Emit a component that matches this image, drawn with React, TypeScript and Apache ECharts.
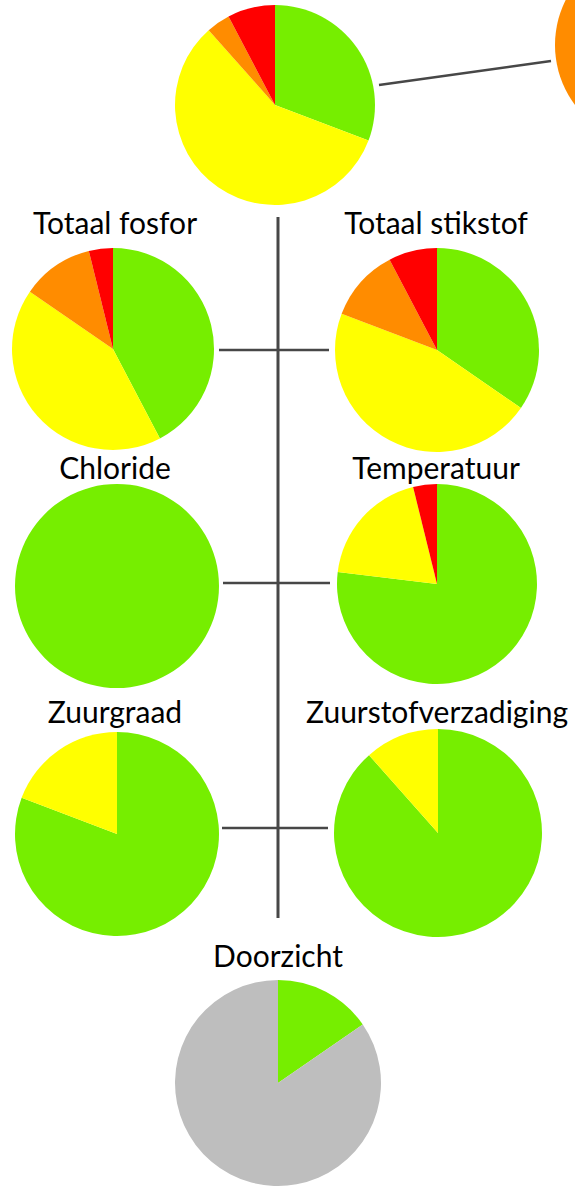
import React, { useEffect, useRef } from "react";
import * as echarts from "echarts";

const categories = ["Goed", "Redelijk", "Matig", "Slecht"];
const colors = ["#76EE00", "#FFFF00", "#FF8C00", "#FF0000"];
const grey = "#BEBEBE";

const totaalValues = [8, 15, 1, 2];
const oranjeValues = [1];
const fosforValues = [11, 11, 3, 1];
const stikstofValues = [9, 12, 3, 2];
const chlorideValues = [26, 0, 0, 0];
const temperatuurValues = [20, 5, 0, 1];
const zuurgraadValues = [21, 5, 0, 0];
const zuurstofValues = [23, 3, 0, 0];
const doorzichtCategories = ["Goed", "Onbekend"];
const doorzichtValues = [4, 22];

const titles = [
  "Totaal fosfor",
  "Totaal stikstof",
  "Chloride",
  "Temperatuur",
  "Zuurgraad",
  "Zuurstofverzadiging",
  "Doorzicht",
];

function pie(name: string, values: number[], cats: string[], cols: string[], center: number[], r: number) {
  return {
    type: "pie",
    name,
    center,
    radius: r,
    startAngle: 90,
    clockwise: true,
    label: { show: false },
    labelLine: { show: false },
    silent: true,
    avoidLabelOverlap: false,
    itemStyle: { borderWidth: 0 },
    data: values.map((v, i) => ({ name: cats[i], value: v, itemStyle: { color: cols[i] } })),
  };
}

export default function App() {
  const ref = useRef<HTMLDivElement>(null);
  useEffect(() => {
    if (!ref.current) return;
    const chart = echarts.init(ref.current, null, { renderer: "svg" });
    const lineStyle = { stroke: "#474747", lineWidth: 2.5 };
    const font = "30px Lato";
    const titlePos = [
      [115, 222],
      [436, 222],
      [115, 467],
      [436, 467],
      [115, 711],
      [437, 711],
      [278, 955],
    ];
    chart.setOption({
      animation: false,
      backgroundColor: "#ffffff",
      graphic: [
        { type: "line", shape: { x1: 278, y1: 217, x2: 278, y2: 918 }, style: { stroke: "#474747", lineWidth: 3 } },
        { type: "line", shape: { x1: 219, y1: 350, x2: 329, y2: 350 }, style: lineStyle },
        { type: "line", shape: { x1: 223, y1: 583, x2: 330, y2: 583 }, style: lineStyle },
        { type: "line", shape: { x1: 222, y1: 828, x2: 328, y2: 828 }, style: lineStyle },
        { type: "line", shape: { x1: 379, y1: 85, x2: 551, y2: 61 }, style: lineStyle },
        ...titles.map((t, i) => ({
          type: "text",
          x: titlePos[i][0],
          y: titlePos[i][1],
          style: { text: t, font, fill: "#000", textAlign: "center", textVerticalAlign: "middle" },
        })),
      ],
      series: [
        pie("Totaal", totaalValues, categories, colors, [275, 105], 100),
        pie("Oranje", oranjeValues, ["Matig"], ["#FF8C00"], [655, 45], 100),
        pie("Totaal fosfor", fosforValues, categories, colors, [113, 349], 101),
        pie("Totaal stikstof", stikstofValues, categories, colors, [437, 350], 102),
        pie("Chloride", chlorideValues, categories, colors, [117, 586], 102),
        pie("Temperatuur", temperatuurValues, categories, colors, [437, 584], 100),
        pie("Zuurgraad", zuurgraadValues, categories, colors, [117, 834], 102),
        pie("Zuurstofverzadiging", zuurstofValues, categories, colors, [438, 833], 104),
        pie("Doorzicht", doorzichtValues, doorzichtCategories, [colors[0], grey], [278, 1083], 103),
      ],
    });
    return () => chart.dispose();
  }, []);
  return (
    <div
      ref={ref}
      style={{ position: "absolute", left: 0, top: 0, width: 575, height: 1193 }}
    />
  );
}
